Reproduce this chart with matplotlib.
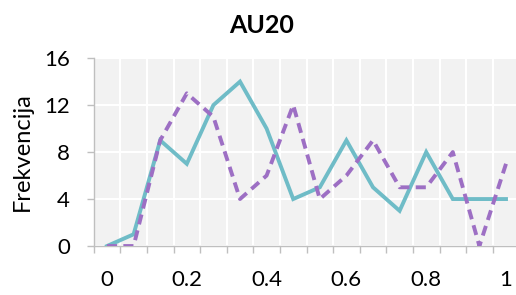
import numpy as np
import matplotlib
matplotlib.use('Agg')
import matplotlib.pyplot as plt
import matplotlib.ticker as ticker

# Data (16 categories, 0 .. 1 in steps of 1/15)
teal = [0, 1, 9, 7, 12, 14, 10, 4, 5, 9, 5, 3, 8, 4, 4, 4]
purple = [0, 0, 9, 13, 11, 4, 6, 12, 4, 6, 9, 5, 5, 8, 0, 7]
label_pos = [0, 3, 6, 9, 12, 15]
label_txt = ['0', '0.2', '0.4', '0.6', '0.8', '1']
y_ticks = [0, 4, 8, 12, 16]

plt.rcParams['font.family'] = ['Lato', 'DejaVu Sans']

fig = plt.figure(figsize=(5.16, 2.95), dpi=100)
ax = fig.add_axes([0.1816, 0.166, 0.8248, 0.637])
ax.set_facecolor('#f2f2f2')

x = np.arange(len(teal))
ax.plot(x, teal, color='#6fbcc7', lw=2.8, solid_joinstyle='miter', zorder=3)
ax.plot(x, purple, color='#9d6fc4', lw=2.8, dashes=(2.6, 1.6), zorder=4)

ax.set_xlim(-0.5, len(teal) - 0.5)
ax.set_ylim(0, 16)

# Category boundaries: ticks and vertical grid
ax.xaxis.set_minor_locator(ticker.FixedLocator(np.arange(-0.5, len(teal), 1)))
ax.set_xticks(label_pos)
ax.set_xticklabels(label_txt, fontsize=16)
ax.tick_params(axis='x', which='major', length=0, pad=17)
ax.tick_params(axis='x', which='minor', length=5, color='#bfbfbf', width=1)
ax.grid(axis='x', which='minor', color='white', lw=1.5)

ax.set_yticks(y_ticks)
ax.tick_params(axis='y', labelsize=16, length=5, color='#bfbfbf', width=1, pad=12)
ax.grid(axis='y', which='major', color='white', lw=1.5)
ax.set_axisbelow(True)

for s in ['top', 'right']:
    ax.spines[s].set_visible(False)
for s in ['left', 'bottom']:
    ax.spines[s].set_color('#bfbfbf')
    ax.spines[s].set_linewidth(1)

ax.set_ylabel('Frekvencija', fontsize=17, labelpad=8)
fig.text(0.506, 0.915, 'AU20', ha='center', va='center', fontsize=18, fontweight='bold')

fig.savefig('out.png', dpi=100)
